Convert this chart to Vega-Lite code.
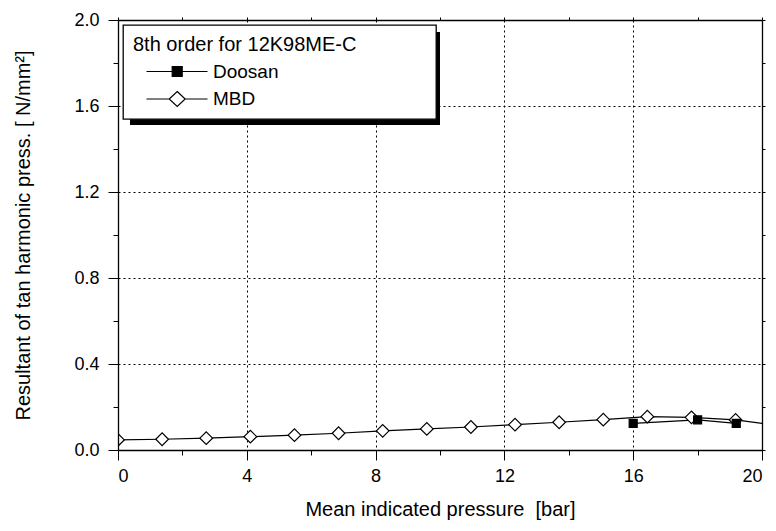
{
  "$schema": "https://vega.github.io/schema/vega-lite/v6.json",
  "width": 644,
  "height": 430,
  "autosize": {"type": "none"},
  "padding": {"left": 118, "top": 20, "right": 14, "bottom": 81},
  "background": "white",
  "data": {
    "values": [
      {"series": "MBD", "mip": 0, "press": 0.047},
      {"series": "MBD", "mip": 1.37, "press": 0.05},
      {"series": "MBD", "mip": 2.74, "press": 0.055},
      {"series": "MBD", "mip": 4.11, "press": 0.062},
      {"series": "MBD", "mip": 5.48, "press": 0.069},
      {"series": "MBD", "mip": 6.85, "press": 0.078},
      {"series": "MBD", "mip": 8.22, "press": 0.089},
      {"series": "MBD", "mip": 9.59, "press": 0.098},
      {"series": "MBD", "mip": 10.96, "press": 0.107},
      {"series": "MBD", "mip": 12.33, "press": 0.118},
      {"series": "MBD", "mip": 13.7, "press": 0.129},
      {"series": "MBD", "mip": 15.07, "press": 0.141},
      {"series": "MBD", "mip": 16.44, "press": 0.155},
      {"series": "MBD", "mip": 17.81, "press": 0.152},
      {"series": "MBD", "mip": 19.18, "press": 0.14},
      {"series": "MBD", "mip": 20.55, "press": 0.113},
      {"series": "Doosan", "mip": 16, "press": 0.124},
      {"series": "Doosan", "mip": 18, "press": 0.14},
      {"series": "Doosan", "mip": 19.2, "press": 0.124}
    ]
  },
  "layer": [
    {
      "data": {"values": [{}]},
      "mark": {"type": "rect", "color": "black"},
      "encoding": {
        "x": {
          "datum": 0.373, "type": "quantitative",
          "scale": {"domain": [0, 20], "nice": false, "zero": false},
          "axis": {
            "orient": "bottom", "values": [2, 4, 6, 8, 10, 12, 14, 16, 18], "grid": true, "domain": false,
            "ticks": true, "tickSize": 5, "labels": false, "title": null,
            "gridColor": "black", "gridDash": [2, 3], "gridWidth": 1,
            "gridOpacity": {"condition": {"test": "datum.value % 4 === 0", "value": 1}, "value": 0},
            "zindex": 0
          }
        },
        "x2": {"datum": 10.0},
        "y": {
          "datum": 1.944, "type": "quantitative",
          "scale": {"domain": [0, 2], "nice": false, "zero": false},
          "axis": {
            "orient": "left", "values": [0.2, 0.4, 0.6, 0.8, 1, 1.2, 1.4, 1.6, 1.8], "grid": true, "domain": false,
            "ticks": true, "tickSize": 5, "labels": false, "title": null,
            "gridColor": "black", "gridDash": [2, 3], "gridWidth": 1,
            "gridOpacity": {"condition": {"test": "round(datum.value * 10) % 4 === 0", "value": 1}, "value": 0},
            "zindex": 0
          }
        },
        "y2": {"datum": 1.512}
      }
    },
    {
      "mark": {"type": "line", "stroke": "black", "strokeWidth": 1.2, "clip": true},
      "encoding": {
        "x": {
          "field": "mip", "type": "quantitative",
          "scale": {"domain": [0, 20], "nice": false, "zero": false},
          "axis": {
            "orient": "bottom", "grid": false, "zindex": 1,
            "values": [0, 4, 8, 12, 16, 20],
            "tickSize": 10,
            "labelPadding": 7,
            "title": "Mean indicated pressure \u00a0[bar]",
            "titlePadding": 14
          }
        },
        "y": {
          "field": "press", "type": "quantitative",
          "scale": {"domain": [0, 2], "nice": false, "zero": false},
          "axis": {
            "orient": "left", "grid": false, "zindex": 1,
            "values": [0, 0.4, 0.8, 1.2, 1.6, 2],
            "format": ".1f",
            "tickSize": 10,
            "labelPadding": 9,
            "title": "Resultant of tan harmonic press. [ N/mm\u00b2]",
            "titlePadding": 40
          }
        },
        "detail": {"field": "series", "type": "nominal"}
      }
    },
    {
      "mark": {"type": "point", "stroke": "black", "strokeWidth": 1.2, "opacity": 1, "clip": true},
      "encoding": {
        "x": {
          "field": "mip", "type": "quantitative",
          "scale": {"domain": [0, 20], "nice": false, "zero": false},
          "axis": {
            "orient": "top", "grid": false, "labels": false, "title": null, "zindex": 1,
            "values": [0, 2, 4, 6, 8, 10, 12, 14, 16, 18, 20],
            "tickSize": 3
          }
        },
        "y": {
          "field": "press", "type": "quantitative",
          "scale": {"domain": [0, 2], "nice": false, "zero": false},
          "axis": {
            "orient": "right", "grid": false, "labels": false, "title": null, "zindex": 1,
            "values": [0, 0.2, 0.4, 0.6, 0.8, 1, 1.2, 1.4, 1.6, 1.8, 2],
            "tickSize": 3
          }
        },
        "fill": {"condition": {"test": "datum.series === 'MBD'", "value": "white"}, "value": "black"},
        "shape": {"condition": {"test": "datum.series === 'MBD'", "value": "diamond"}, "value": "square"},
        "size": {"condition": {"test": "datum.series === 'MBD'", "value": 160}, "value": 64}
      }
    },
    {
      "mark": {"type": "point", "strokeWidth": 1.2, "opacity": 0, "clip": true},
      "encoding": {
        "x": {"field": "mip", "type": "quantitative", "axis": null},
        "y": {"field": "press", "type": "quantitative", "axis": null},
        "fill": {
          "field": "series", "type": "nominal",
          "scale": {"domain": ["Doosan", "MBD"], "range": ["black", "white"]},
          "legend": {"title": "8th order for 12K98ME-C", "orient": "none", "legendX": 5, "legendY": 5}
        },
        "stroke": {
          "field": "series", "type": "nominal",
          "scale": {"domain": ["Doosan", "MBD"], "range": ["black", "black"]},
          "legend": {"title": "8th order for 12K98ME-C", "orient": "none", "legendX": 5, "legendY": 5}
        },
        "shape": {
          "field": "series", "type": "nominal",
          "scale": {
            "domain": ["Doosan", "MBD"],
            "range": [
              "M1,0H16.25M7.425,-1.25H9.925V1.25H7.425ZM70.25,0",
              "M1,0H6.675M10.675,0H16.25M8.675,-1.875L10.675,0L8.675,1.875L6.675,0ZM70.25,0"
            ]
          },
          "legend": {"title": "8th order for 12K98ME-C", "orient": "none", "legendX": 5, "legendY": 5}
        }
      }
    }
  ],
  "resolve": {"axis": {"x": "independent", "y": "independent"}},
  "config": {
    "view": {"stroke": null},
    "axis": {
      "domainColor": "black", "domainWidth": 1.3,
      "tickColor": "black", "tickWidth": 1,
      "labelFont": "Liberation Sans", "labelFontSize": 18, "labelColor": "black",
      "titleFont": "Liberation Sans", "titleFontSize": 20, "titleFontWeight": "normal", "titleColor": "black"
    },
    "legend": {
      "padding": 10, "fillColor": "white", "strokeColor": "black", "strokeWidth": 1.3,
      "titleFont": "Liberation Sans", "titleFontSize": 20, "titleFontWeight": "normal", "titleColor": "black", "titlePadding": 7, "titleLimit": 400,
      "labelFont": "Liberation Sans", "labelFontSize": 19, "labelColor": "black", "labelOffset": 61,
      "symbolSize": 64, "symbolOpacity": 1, "symbolStrokeColor": "black", "symbolStrokeWidth": 1.2,
      "rowPadding": 6.5
    }
  }
}
